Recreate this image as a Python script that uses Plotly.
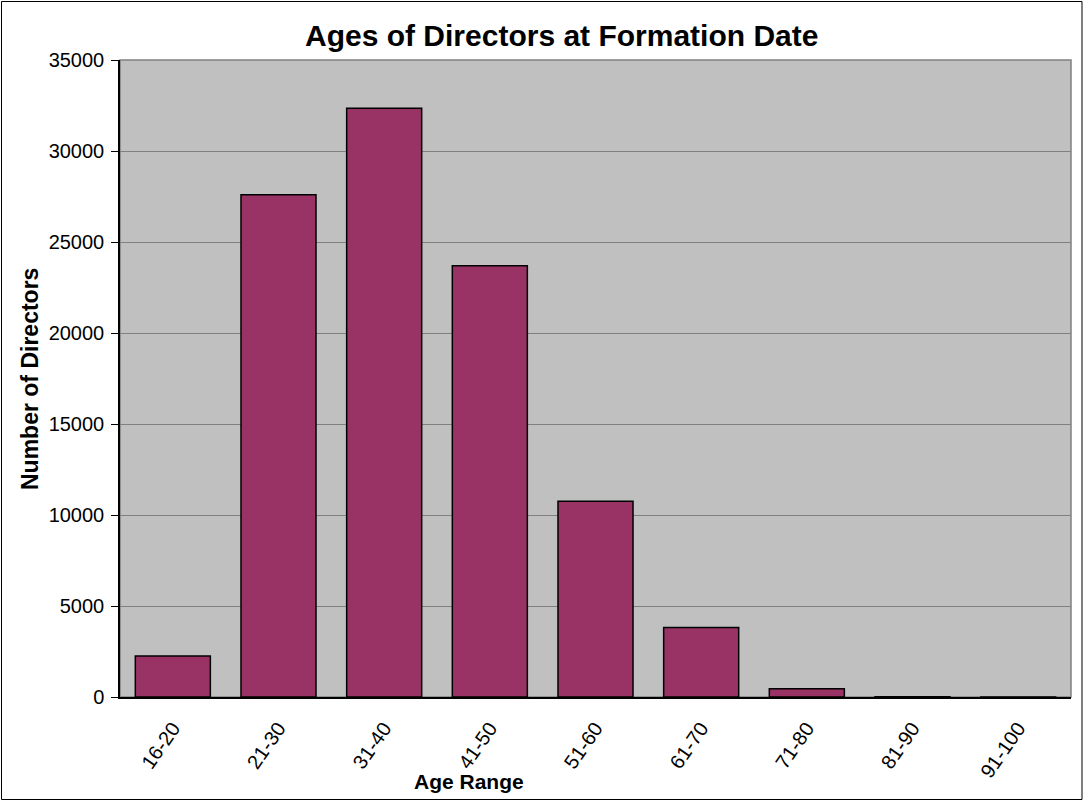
import plotly.graph_objects as go

categories = ["16-20", "21-30", "31-40", "41-50", "51-60", "61-70", "71-80", "81-90", "91-100"]
directors = [2250, 27600, 32350, 23700, 10750, 3820, 450, 10, 1]
y_ticks = [0, 5000, 10000, 15000, 20000, 25000, 30000, 35000]

W, H = 1084, 801
ML, MR, MT, MB = 120, 13, 60, 104
PW, PH = W - ML - MR, H - MT - MB

def px_x(x):
    return (x - ML) / PW

def px_y(y):
    return (H - MB - y) / PH

FONT = "Liberation Sans, Arial, sans-serif"

fig = go.Figure(go.Bar(
    x=categories, y=directors,
    marker=dict(color="#993366", line=dict(color="#000000", width=1.5)),
    width=0.71,
))

fig.update_layout(
    width=W, height=H,
    margin=dict(l=ML, r=MR, t=MT, b=MB),
    paper_bgcolor="white", plot_bgcolor="#C0C0C0",
    font=dict(family=FONT, color="black", size=20),
    showlegend=False,
    xaxis=dict(
        type="category", tickangle=-55, showgrid=False,
        showline=True, linecolor="black", linewidth=1.5,
        ticks="", tickfont=dict(size=20, family=FONT), ticklabelstandoff=10,
    ),
    yaxis=dict(
        range=[0, 35000], tickvals=y_ticks, ticktext=[str(v) for v in y_ticks],
        showgrid=True, gridcolor="#808080", gridwidth=1,
        showline=True, linecolor="black", linewidth=1.5,
        ticks="outside", ticklen=7, tickcolor="black", ticklabelstandoff=3,
        zeroline=False, tickfont=dict(size=20, family=FONT),
    ),
    shapes=[
        dict(type="rect", xref="paper", yref="paper", x0=0, x1=1, y0=0, y1=1,
             line=dict(color="#808080", width=1.5), layer="below"),
        dict(type="rect", xref="paper", yref="paper",
             x0=px_x(1.5), x1=px_x(1082), y0=px_y(799.5), y1=px_y(1.5),
             line=dict(color="black", width=1)),
    ],
    annotations=[
        dict(text="<b>Ages of Directors at Formation Date</b>", xref="paper", yref="paper",
             x=px_x(561), y=px_y(36), showarrow=False, font=dict(size=30, family=FONT),
             xanchor="center", yanchor="middle"),
        dict(text="<b>Number of Directors</b>", xref="paper", yref="paper",
             x=px_x(30), y=px_y(379), showarrow=False, textangle=-90,
             font=dict(size=23, family=FONT), xanchor="center", yanchor="middle"),
        dict(text="<b>Age Range</b>", xref="paper", yref="paper",
             x=px_x(469), y=px_y(781), showarrow=False,
             font=dict(size=21, family=FONT), xanchor="center", yanchor="middle"),
    ],
)

fig.write_html("out.html", config={"displayModeBar": False},
               post_script="document.body.style.margin='0';document.body.style.padding='0';")
